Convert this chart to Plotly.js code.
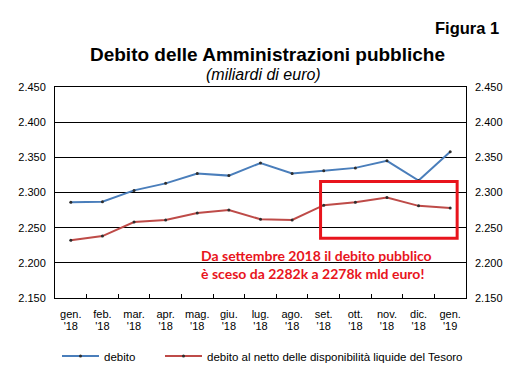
<!DOCTYPE html>
<html>
<head>
<meta charset="utf-8">
<script src="https://cdn.plot.ly/plotly-3.0.1.min.js"></script>
<style>
html,body{margin:0;padding:0;background:#fff;}
#chart{width:522px;height:374px;}
</style>
</head>
<body>
<div id="chart"></div>
<script>
var months = ["gen.","feb.","mar.","apr.","mag.","giu.","lug.","ago.","set.","ott.","nov.","dic.","gen."];
var years = ["'18","'18","'18","'18","'18","'18","'18","'18","'18","'18","'18","'18","'19"];
var debito = [2286, 2287, 2303, 2313, 2327, 2324, 2342, 2327, 2331, 2335, 2345, 2317, 2358];
var debitoNetto = [2232, 2238, 2258, 2261, 2271, 2275, 2262, 2261, 2282, 2286, 2293, 2281, 2278];
var yTicks = [2150, 2200, 2250, 2300, 2350, 2400, 2450];

var categories = months.map(function (m, i) { return m + ' ' + years[i]; });
var font = "Liberation Sans, Arial, sans-serif";

var traces = [
  {x: categories, y: debito, type: 'scatter', mode: 'lines+markers', name: 'debito',
   line: {color: '#4a7ebb', width: 2}, marker: {size: 3, color: '#2d2d2d'}, legend: 'legend'},
  {x: categories, y: debitoNetto, type: 'scatter', mode: 'lines+markers',
   name: 'debito al netto delle disponibilità liquide del Tesoro',
   line: {color: '#be4b48', width: 2}, marker: {size: 3, color: '#2d2d2d'}, legend: 'legend2'},
  {x: categories, y: debito, type: 'scatter', mode: 'none', xaxis: 'x2', yaxis: 'y2',
   showlegend: false, hoverinfo: 'skip'}
];

var legendCommon = {orientation: 'h', xanchor: 'left', yref: 'container', y: 1 - 356 / 374, yanchor: 'middle',
                    font: {family: font, size: 11.5, color: '#000'}, itemwidth: 37, bgcolor: 'rgba(0,0,0,0)'};

var layout = {
  width: 522, height: 374,
  margin: {l: 55, r: 56, t: 87, b: 76},
  paper_bgcolor: '#fff', plot_bgcolor: '#fff',
  separators: ',.',
  font: {family: font, size: 11, color: '#000'},
  title: {text: '<b>Debito delle Amministrazioni pubbliche</b>', font: {family: font, size: 19, color: '#000'},
          xref: 'container', x: 267.5 / 522, xanchor: 'center', y: 0.855, yanchor: 'middle'},
  showlegend: true,
  legend: Object.assign({}, legendCommon, {x: 2 / 411}),
  legend2: Object.assign({}, legendCommon, {x: 0.2506 + 2 / 411}),
  xaxis: {type: 'category', range: [-0.5, 12.5], autorange: false, automargin: false, tickangle: 0,
          tickvals: categories, ticktext: months,
          showgrid: false, showline: true, linecolor: '#000', linewidth: 1, mirror: true,
          ticks: 'inside', tickson: 'boundaries', ticklen: 4, tickcolor: '#000',
          tickfont: {family: font, size: 11, color: '#000'}, zeroline: false, ticklabelstandoff: 6},
  xaxis2: {type: 'category', range: [-0.5, 12.5], autorange: false, automargin: false, tickangle: 0,
           overlaying: 'x', side: 'bottom', tickvals: categories, ticktext: years,
           showgrid: false, showline: false, ticks: '', zeroline: false,
           tickfont: {family: font, size: 11, color: '#000'}, ticklabelstandoff: 20},
  yaxis: {range: [2150, 2450], autorange: false, automargin: false, tickvals: yTicks, tickformat: ',d',
          showgrid: true, gridcolor: '#000', gridwidth: 1,
          showline: true, linecolor: '#000', linewidth: 1, mirror: true, ticks: '', zeroline: false,
          tickfont: {family: font, size: 11, color: '#000'}, ticklabelstandoff: 6},
  yaxis2: {range: [2150, 2450], autorange: false, automargin: false, tickvals: yTicks, tickformat: ',d',
           overlaying: 'y', side: 'right',
           showgrid: false, showline: false, ticks: '', zeroline: false,
           tickfont: {family: font, size: 11, color: '#000'}, ticklabelstandoff: 8},
  shapes: [
    {type: 'rect', xref: 'x', yref: 'y', x0: 7.9, x1: 12.22, y0: 2235, y1: 2315.5,
     line: {color: '#e8141c', width: 3}, fillcolor: 'rgba(0,0,0,0)'}
  ],
  annotations: [
    {text: '<b>Figura 1</b>', xref: 'paper', yref: 'paper', x: (501 - 55) / 411, y: 1.28, xanchor: 'right', yanchor: 'middle',
     showarrow: false, font: {family: font, size: 16.5, color: '#000'}},
    {text: '<i>(miliardi di euro)</i>', xref: 'paper', yref: 'paper', x: 0.5085, y: 1.057, xanchor: 'center', yanchor: 'middle',
     showarrow: false, font: {family: font, size: 16, color: '#000'}},
    {text: '<b>Da settembre 2018 il debito pubblico<br>è sceso da 2282k a 2278k mld euro!</b>', xref: 'x', yref: 'y',
     x: 7.76, y: 2198, xanchor: 'center', yanchor: 'middle', align: 'left', showarrow: false,
     font: {family: 'Lato, sans-serif', size: 14, color: '#e8141c'}}
  ]
};

Plotly.newPlot('chart', traces, layout, {displayModeBar: false, staticPlot: true});
</script>
</body>
</html>
